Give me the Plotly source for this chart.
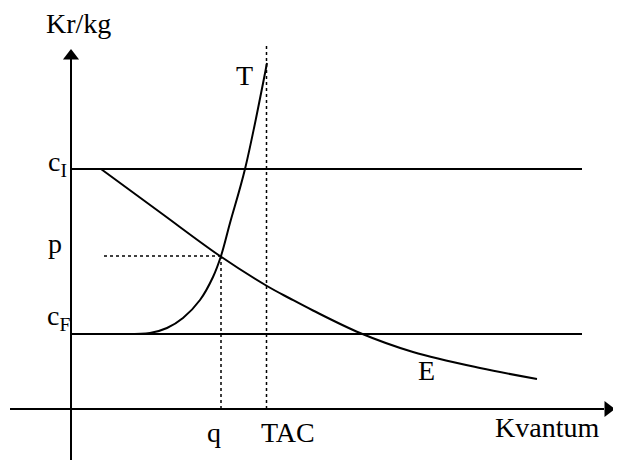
import plotly.graph_objects as go

# koordinater: x = kvantum, y = pris (kr/kg)
c_I = 240
c_F = 75
p = 153
q = 150
TAC = 195.5
x_linje_slutt = 511

# etterspørsel E
E_x = [30, 90, 149, 196, 219, 242, 289, 342, 409, 466]
E_y = [240, 196, 153, 123, 110.5, 98.5, 76, 57, 41, 30]

# tilbud T
T_x = [46, 79, 96, 112, 129, 142, 150, 159, 174, 196]
T_y = [75, 76, 81, 91, 109, 132, 153, 186, 240, 346]

# tekster: (tekst, x, y)
etiketter = [
    ("Kr/kg", 7, 386),
    ("c<sub>I</sub>", -14, 246),
    ("p", -16, 166),
    ("c<sub>F</sub>", -13, 92),
    ("T", 173, 334),
    ("E", 355, 39),
    ("q", 143, -23),
    ("TAC", 216.5, -23),
    ("Kvantum", 476, -18),
]

fig = go.Figure()

svart = dict(color="black", width=2)
prikket = dict(color="black", width=1.5, dash="dot")

# akser
fig.add_trace(go.Scatter(x=[0, 0], y=[-52, 350], mode="lines", line=svart))
fig.add_trace(go.Scatter(x=[-61, 533], y=[0, 0], mode="lines", line=svart))
fig.add_trace(go.Scatter(x=[0], y=[353], mode="markers", cliponaxis=False,
                         marker=dict(symbol="triangle-up", size=14, color="black")))
fig.add_trace(go.Scatter(x=[537], y=[0], mode="markers", cliponaxis=False,
                         marker=dict(symbol="triangle-right", size=14, color="black")))

# horisontale kostnadslinjer
fig.add_trace(go.Scatter(x=[0, x_linje_slutt], y=[c_I, c_I], mode="lines", line=svart))
fig.add_trace(go.Scatter(x=[0, x_linje_slutt], y=[c_F, c_F], mode="lines", line=svart))

# hjelpelinjer
fig.add_trace(go.Scatter(x=[33, q], y=[p, p], mode="lines", line=prikket))
fig.add_trace(go.Scatter(x=[q, q], y=[0, p], mode="lines", line=prikket))
fig.add_trace(go.Scatter(x=[TAC, TAC], y=[0, 363], mode="lines", line=prikket))

# kurver
fig.add_trace(go.Scatter(x=E_x, y=E_y, mode="lines", line=dict(color="black", width=2, shape="spline")))
fig.add_trace(go.Scatter(x=T_x, y=T_y, mode="lines", line=dict(color="black", width=2, shape="spline")))

for tekst, x, y in etiketter:
    fig.add_annotation(x=x, y=y, text=tekst, showarrow=False, xanchor="center", yanchor="middle",
                       font=dict(family="Liberation Serif", size=28, color="black"))

# siden har 8px marg i body, så figuren gjøres mindre for å unngå rullefelt
fig.update_layout(
    width=613, height=452,
    margin=dict(l=0, r=0, t=0, b=0),
    paper_bgcolor="white", plot_bgcolor="white",
    showlegend=False,
    xaxis=dict(range=[-63, 550], visible=False, fixedrange=True),
    yaxis=dict(range=[-51, 401], visible=False, fixedrange=True),
)

fig.write_html("out.html")
